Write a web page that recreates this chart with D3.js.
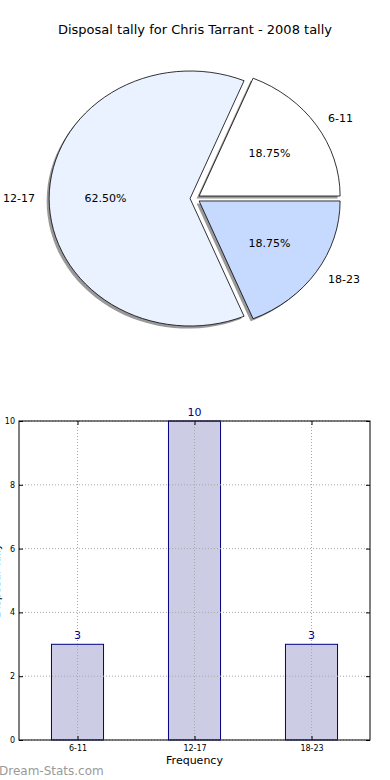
<!DOCTYPE html>
<html><head><meta charset="utf-8">
<script src="https://cdn.jsdelivr.net/npm/d3@7"></script>
<style>body{margin:0;background:#fff}svg{display:block;font-family:"DejaVu Sans",sans-serif}</style>
</head><body>
<svg id="c" width="390" height="780"></svg>
<script>
const title = "Disposal tally for Chris Tarrant - 2008 tally";
const categories = ["6-11", "12-17", "18-23"];
const values = [3, 10, 3];
const pieColors = ["#ffffff", "#eaf1ff", "#c6d9ff"];
const yTicks = [0, 2, 4, 6, 8, 10];
const xLabel = "Frequency";
const yLabel = "Disposal Tally";
const watermark = "Dream-Stats.com";

const svg = d3.select("#c");
svg.append("text").attr("x", 195).attr("y", 34).attr("text-anchor", "middle")
  .attr("font-size", 13).attr("fill", "#000").text(title);

// ---- Pie (matplotlib-like, elliptical, exploded, with shadow)
const cx = 195, cy = 198.5, rx = 141, ry = 127.5, expl = 0.035;
const total = d3.sum(values);
const pie = d3.pie().sort(null).value(d => d)
  .startAngle(Math.PI / 2).endAngle(Math.PI / 2 - 2 * Math.PI);
const arcs = pie(values);
const arcGen = d3.arc().innerRadius(0).outerRadius(1);
const pieG = svg.append("g");
function sliceGroup(parent, a, dx, dy) {
  const mid = (a.startAngle + a.endAngle) / 2;
  const ox = Math.sin(mid) * expl * rx, oy = -Math.cos(mid) * expl * ry;
  return parent.append("g")
    .attr("transform", `translate(${cx + ox + dx},${cy + oy + dy}) scale(${rx},${ry})`);
}
arcs.forEach(a => {
  sliceGroup(pieG, a, -2.5, 2.5).append("path").attr("d", arcGen(a))
    .attr("fill", "#000").attr("fill-opacity", 0.4);
});
arcs.forEach((a, i) => {
  sliceGroup(pieG, a, 0, 0).append("path").attr("d", arcGen(a))
    .attr("fill", pieColors[i]).attr("stroke", "#000")
    .attr("stroke-width", 0.8).attr("vector-effect", "non-scaling-stroke");
});
arcs.forEach((a, i) => {
  const mid = (a.startAngle + a.endAngle) / 2;
  const sx = Math.sin(mid), sy = -Math.cos(mid);
  const bx = cx + sx * expl * rx, by = cy + sy * expl * ry;
  svg.append("text").attr("x", bx + 1.1 * rx * sx).attr("y", by + 1.1 * ry * sy)
    .attr("dy", "0.35em").attr("font-size", 11)
    .attr("text-anchor", sx > 0.01 ? "start" : (sx < -0.01 ? "end" : "middle"))
    .text(categories[i]);
  svg.append("text").attr("x", bx + 0.6 * rx * sx).attr("y", by + 0.6 * ry * sy)
    .attr("dy", "0.35em").attr("font-size", 11).attr("text-anchor", "middle")
    .text((values[i] / total * 100).toFixed(2) + "%");
});

// ---- Bar chart
const L = 19, R = 370, T = 421, B = 740;
const x = d3.scaleLinear().domain([-0.5, categories.length - 0.5]).range([L, R]);
const y = d3.scaleLinear().domain([0, 10]).range([B, T]);
const bw = 0.445;
const g = svg.append("g");
g.selectAll(".bar").data(values).join("rect")
  .attr("x", (d, i) => x(i - bw / 2)).attr("width", (d, i) => x(i + bw / 2) - x(i - bw / 2))
  .attr("y", d => y(d)).attr("height", d => B - y(d))
  .attr("fill", "#ccccE5").attr("stroke", "#000080").attr("stroke-width", 1);
g.selectAll(".gx").data(categories).join("line")
  .attr("x1", (d, i) => x(i)).attr("x2", (d, i) => x(i)).attr("y1", T).attr("y2", B)
  .attr("stroke", "#a8a8a8").attr("stroke-width", 1).attr("stroke-dasharray", "1,2");
g.selectAll(".gy").data(yTicks).join("line")
  .attr("x1", L).attr("x2", R).attr("y1", d => y(d)).attr("y2", d => y(d))
  .attr("stroke", "#a8a8a8").attr("stroke-width", 1).attr("stroke-dasharray", "1,2");
g.selectAll(".vl").data(values).join("text")
  .attr("x", (d, i) => x(i)).attr("y", d => y(d) - 5).attr("text-anchor", "middle")
  .attr("font-size", 11).attr("fill", "#000080").text(d => d);
g.append("rect").attr("x", L).attr("y", T).attr("width", R - L).attr("height", B - T)
  .attr("fill", "none").attr("stroke", "#000").attr("stroke-width", 1);
const yAx = d3.axisLeft(y).tickValues(yTicks).tickSize(-4).tickPadding(4);
const yg = svg.append("g").attr("transform", `translate(${L},0)`).call(yAx);
yg.select(".domain").remove();
yg.selectAll("text").attr("font-size", 8).attr("font-family", "DejaVu Sans");
const yAxR = d3.axisRight(y).tickValues(yTicks).tickSize(-4).tickFormat("");
const ygr = svg.append("g").attr("transform", `translate(${R},0)`).call(yAxR);
ygr.select(".domain").remove();
const xAx = d3.axisBottom(x).tickValues(d3.range(categories.length)).tickFormat(i => categories[i]).tickSize(-4).tickPadding(5);
const xg = svg.append("g").attr("transform", `translate(0,${B})`).call(xAx);
xg.select(".domain").remove();
xg.selectAll("text").attr("font-size", 8).attr("font-family", "DejaVu Sans");
const xAxT = d3.axisTop(x).tickValues(d3.range(categories.length)).tickFormat("").tickSize(-4);
const xgt = svg.append("g").attr("transform", `translate(0,${T})`).call(xAxT);
xgt.select(".domain").remove();
svg.append("text").attr("x", x(1)).attr("y", 764).attr("text-anchor", "middle")
  .attr("font-size", 11).text(xLabel);
svg.append("text").attr("transform", `translate(0,${(T + B) / 2}) rotate(-90)`)
  .attr("text-anchor", "middle").attr("font-size", 11).text(yLabel);
svg.append("text").attr("x", -1).attr("y", 775).attr("font-size", 12)
  .attr("font-weight", "normal").attr("fill", "#9a9a9a").text(watermark);
</script>
</body></html>
